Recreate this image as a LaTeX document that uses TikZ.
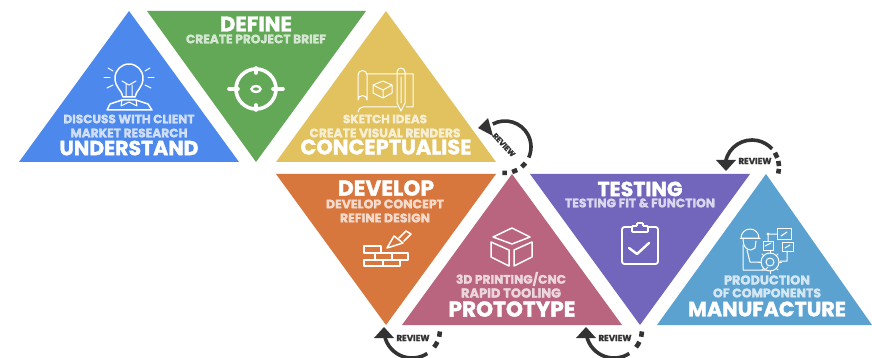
\documentclass[tikz,border=0pt]{standalone}
\usepackage{graphicx}
\usepackage{fontspec}
\setmainfont{Poppins}[BoldFeatures={FakeBold=1.6}]
\definecolor{cblue}{HTML}{4D88EC}
\definecolor{cgreen}{HTML}{62A857}
\definecolor{cyellow}{HTML}{E2C25F}
\definecolor{corange}{HTML}{D7763D}
\definecolor{cpink}{HTML}{B9657F}
\definecolor{cpurple}{HTML}{7165BC}
\definecolor{clblue}{HTML}{5CA2D1}
\definecolor{cdark}{HTML}{333333}
\newcommand{\fitw}[2]{\resizebox{#1pt}{!}{\bfseries #2}}
\newcommand{\revarc}[5]{%
  \draw[revline] (#1) ++(#3:#2 pt) arc[start angle=#3,end angle=#4,radius=#2 pt];}
\tikzset{
  tri/.style={draw=none},
  big/.style={inner sep=0pt,text=white},
  small/.style={inner sep=0pt,text=white,text opacity=.72},
  rev/.style={inner sep=0pt,text=cdark},
  icon/.style={draw=white,line width=1.5pt,line join=round,line cap=round},
  iconthin/.style={draw=white,line width=1pt,line join=round,line cap=round},
  revline/.style={draw=cdark,line width=3.6pt},
  revdash/.style={draw=cdark,line width=4.6pt},
  revhead/.style={fill=cdark,draw=none}
}
\begin{document}
\begin{tikzpicture}[x=1pt,y=-1pt]
\useasboundingbox (0,0) rectangle (872,358);
\clip (0,0) rectangle (872,358);
\fill[white] (0,0) rectangle (872,358);
% triangles
\fill[tri,cblue] (129,11) -- (239,162) -- (19,162) -- cycle;
\fill[tri,cgreen] (147,11) -- (366,11) -- (256,162) -- cycle;
\fill[tri,cyellow] (386,11) -- (496,162) -- (276,162) -- cycle;
\fill[tri,corange] (276,174) -- (496,174) -- (386,325) -- cycle;
\fill[tri,cpink] (512,174) -- (622,325) -- (402,325) -- cycle;
\fill[tri,cpurple] (530,174) -- (750,174) -- (640,325) -- cycle;
\fill[tri,clblue] (766,174) -- (872,325) -- (657,325) -- cycle;
% texts
\node[big] (t1) at (129,148) {\fitw{139}{UNDERSTAND}};
\node[small] (t1a) at (129,119) {\fitw{131}{DISCUSS WITH CLIENT}};
\node[small] (t1b) at (129,133) {\fitw{117}{MARKET RESEARCH}};
\node[big] (t2) at (256,24) {\fitw{72}{DEFINE}};
\node[small] (t2a) at (256,39) {\fitw{140}{CREATE PROJECT BRIEF}};
\node[big] (t3) at (386,147) {\fitw{171}{CONCEPTUALISE}};
\node[small] (t3a) at (385,119) {\fitw{84}{SKETCH IDEAS}};
\node[small] (t3b) at (385,133) {\fitw{151}{CREATE VISUAL RENDERS}};
\node[big] (t4) at (386,188) {\fitw{96}{DEVELOP}};
\node[small] (t4a) at (385,204) {\fitw{118}{DEVELOP CONCEPT}};
\node[small] (t4b) at (385,218) {\fitw{90}{REFINE DESIGN}};
\node[big] (t5) at (512,309) {\fitw{127}{PROTOTYPE}};
\node[small] (t5a) at (511,279) {\fitw{110}{3D PRINTING/CNC}};
\node[small] (t5b) at (511,293) {\fitw{100}{RAPID TOOLING}};
\node[big] (t6) at (640,189) {\fitw{85}{TESTING}};
\node[small] (t6a) at (640,203) {\fitw{150}{TESTING FIT \& FUNCTION}};
\node[big] (t7) at (767,309) {\fitw{158}{MANUFACTURE}};
\node[small] (t7a) at (767,280) {\fitw{86}{PRODUCTION}};
\node[small] (t7b) at (767,293) {\fitw{108}{OF COMPONENTS}};
% icon: bulb
\draw[icon] (123,97) .. controls (122,90) and (115,88) .. (115,78) arc[start angle=180,end angle=0,radius=14pt] .. controls (143,88) and (136,90) .. (135,97) -- cycle;
\draw[iconthin] (126,97) -- (126,84) (122,81) -- (129,85) -- (136,81) (132,85) -- (132,97);
\draw[icon] (107,110) -- (110,104) -- (122,100) -- (136,100) -- (148,104) -- (152,110) -- cycle;
\draw[iconthin] (122,100) -- (121,106) -- (129,102) -- (137,106) -- (136,100);
\foreach \a/\b/\c/\d in {108/68/113/71, 104/78/110/78, 107/88/113/85, 150/68/145/71, 154/78/148/78, 151/88/145/85}
  \draw[iconthin] (\a,\b) -- (\c,\d);
% icon: target
\draw[draw=white,line width=3.6pt] (256,89) circle[radius=20pt];
\draw[draw=white,line width=2.4pt] (256,89) ellipse[x radius=4.5pt,y radius=3pt];
\draw[draw=white,line width=3.6pt,line cap=round] (256,68) -- (256,73) (256,105) -- (256,110) (229,89) -- (238,89) (273,89) -- (283,89);
% icon: blueprint
\draw[iconthin] (358,75) arc[start angle=180,end angle=0,radius=4.5pt] -- (367,100) arc[start angle=0,end angle=180,radius=4.5pt] -- cycle;
\draw[iconthin] (367,74) -- (397,74) (405,74) -- (413,74) -- (413,107) -- (406,107) (397,107) -- (363,107) arc[start angle=90,end angle=180,radius=5pt];
\draw[iconthin] (397,72) arc[start angle=180,end angle=0,radius=4pt] -- (405,103) -- (401,111) -- (397,103) -- cycle (397,74) -- (405,74) (401,77) -- (401,103);
\draw[iconthin] (383,81) -- (392,85) -- (383,90) -- (373,85) -- cycle (373,85) -- (373,93) -- (383,98) -- (392,93) -- (392,85) (383,90) -- (383,98);
% icon: bricks
\draw[icon] (364,246) rectangle (381,253) (375,253) rectangle (392,260) (392,253) rectangle (408,260) (364,260) rectangle (383,266) (383,260) rectangle (400,266);
\draw[icon] (387,248) -- (394,236) -- (403,243) -- cycle;
\draw[icon] (399,238) -- (406,231) -- (411,234) -- (404,241);
% icon: cube
\draw[icon] (512,228) -- (530,237) -- (512,244) -- (493,237) -- cycle;
\draw[icon] (491,242) -- (509,250) -- (509,266) -- (491,257) -- cycle;
\draw[icon] (514,250) -- (532,242) -- (532,257) -- (514,266) -- cycle;
% icon: clipboard
\draw[draw=white,line width=1.9pt,rounded corners=2.5pt,line join=round] (633,227) -- (622,227) -- (622,264) -- (658,264) -- (658,227) -- (647,227);
\draw[draw=white,line width=1.9pt,rounded corners=1pt] (632,232) -- (632,226) -- (637,226) -- (637,223) -- (643,223) -- (643,226) -- (648,226) -- (648,232) -- cycle;
\draw[draw=white,line width=2.4pt,line cap=round,line join=round] (629,248) -- (637,254) -- (649,243);
% icon: manufacture
\draw[iconthin] (741,238) arc[start angle=180,end angle=0,radius=9pt] -- cycle;
\draw[iconthin] (740,238) -- (760,238);
\draw[iconthin] (743,239) .. controls (743,246) and (746,250) .. (751,250) -- (755,248) -- (756,241);
\draw[iconthin] (743,245) -- (743,270) -- (765,270) -- (768,267) (747,250) -- (750,262) -- (760,262);
\draw[iconthin] (770,262) circle[radius=9pt] (770,262) circle[radius=4pt];
\foreach \a in {0,45,...,315} \draw[iconthin] (770,262) ++(\a:9pt) -- ++(\a:2.5pt);
\draw[iconthin] (777,228) rectangle (791,239) (763,241) rectangle (773,250) (782,242) rectangle (793,251);
\draw[iconthin] (781,236) -- (787,232) (765,246) -- (771,243) (785,248) -- (790,245);
\draw[iconthin] (768,234) -- (777,234) (768,234) -- (768,241) (787,251) -- (787,261) -- (780,261) (768,234) circle[radius=1pt];
% review 1
\revarc{505,147}{26}{118}{-24}{}
\draw[revdash] (505,147) ++(-38:26pt) arc[start angle=-38,end angle=-50,radius=26pt];
\draw[revdash] (505,147) ++(-62:26pt) arc[start angle=-62,end angle=-74,radius=26pt];
\draw[revdash] (505,147) ++(-86:26pt) arc[start angle=-86,end angle=-96,radius=26pt];
\fill[revhead] (478,128) -- (488,118) -- (493,136) -- cycle;
\node[rev,rotate=-47] (r1) at (504,145) {\fitw{29}{REVIEW}};
% review 2
\revarc{412,330}{28}{192}{303}{}
\draw[revdash] (412,330) ++(-38:28pt) arc[start angle=-38,end angle=-25,radius=28pt];
\draw[revdash] (412,330) ++(-14:28pt) arc[start angle=-14,end angle=-3,radius=28pt];
\fill[revhead] (384,327) -- (394,338) -- (374,338) -- cycle;
\node[rev] (r2) at (413,338) {\fitw{33}{REVIEW}};
% review 3
\revarc{614,330}{28}{192}{303}{}
\draw[revdash] (614,330) ++(-38:28pt) arc[start angle=-38,end angle=-25,radius=28pt];
\draw[revdash] (614,330) ++(-14:28pt) arc[start angle=-14,end angle=-3,radius=28pt];
\fill[revhead] (586,327) -- (596,338) -- (576,338) -- cycle;
\node[rev] (r3) at (615,338) {\fitw{33}{REVIEW}};
% review 4
\revarc{752,167}{27}{168}{42}{}
\draw[revdash] (752,167) ++(32:27pt) arc[start angle=32,end angle=20,radius=27pt];
\draw[revdash] (752,167) ++(13:27pt) arc[start angle=13,end angle=2,radius=27pt];
\draw[revdash] (752,167) ++(-4:27pt) arc[start angle=-4,end angle=-14,radius=27pt];
\fill[revhead] (726,171) -- (716,160) -- (736,160) -- cycle;
\node[rev] (r4) at (755,161) {\fitw{33}{REVIEW}};
\end{tikzpicture}
\end{document}
